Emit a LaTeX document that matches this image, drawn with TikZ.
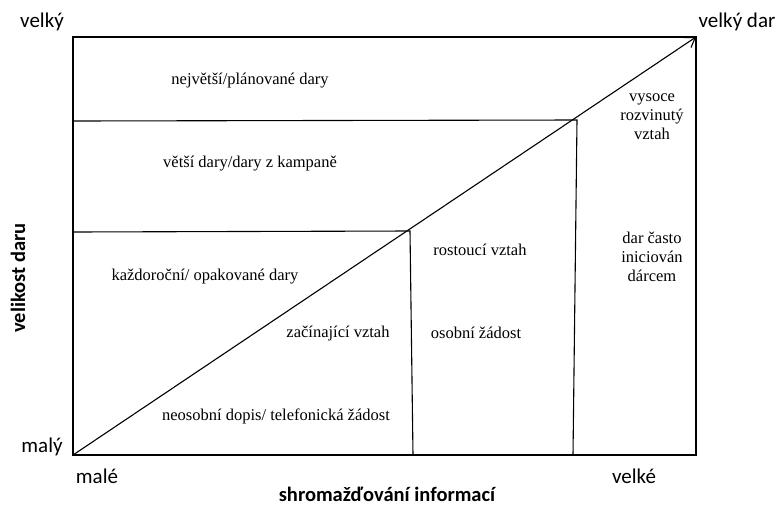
\documentclass[tikz,border=0pt]{standalone}
\usepackage{fontspec}
\usetikzlibrary{arrows.meta}
\setmainfont{Liberation Serif}
\newfontfamily\axisfont{Carlito}
\begin{document}
\begin{tikzpicture}[x=1pt,y=-1pt,
  frame/.style={line width=2pt},
  divider/.style={line width=1.1pt},
  zone/.style={font=\fontsize{16.5}{19}\selectfont, inner sep=0pt, align=center},
  axislabel/.style={font=\axisfont\fontsize{21}{24}\selectfont, inner sep=0pt},
  axistitle/.style={font=\axisfont\bfseries\fontsize{20.5}{24}\selectfont, inner sep=0pt}]
\useasboundingbox (0,0) rectangle (779,507);

% corners of the frame
\coordinate (bl) at (73,455);
\coordinate (tr) at (696,37);
\coordinate (tl) at (73,37);
\coordinate (br) at (696,455);

% points where the dividers meet the diagonal
\coordinate (p1) at (410,231);
\coordinate (p2) at (577,120);
\coordinate (l1) at (73,232);
\coordinate (l2) at (73,121);
\coordinate (b1) at (413,455);
\coordinate (b2) at (573,455);

% frame
\draw[frame] (tl) rectangle (br);

% dividers
\draw[divider] (l2) -- (p2) -- (b2);
\draw[divider] (l1) -- (p1) -- (b1);

% diagonal arrow
\draw[divider, -{Straight Barb[length=9pt,width=12pt]}] (bl) -- (tr);

% zone texts
\node[zone] (z1) at (250,81) {největší/plánované dary};
\node[zone] (z2) at (250,164) {větší dary/dary z kampaně};
\node[zone] (z3) at (205,277) {každoroční/ opakované dary};
\node[zone] (z4) at (338,334) {začínající vztah};
\node[zone] (z5) at (276,416) {neosobní dopis/ telefonická žádost};
\node[zone] (z6) at (480,250) {rostoucí vztah};
\node[zone] (z7) at (476,333) {osobní žádost};
\node[zone] (z8) at (652,117) {vysoce\\rozvinutý\\vztah};
\node[zone] (z9) at (652,257) {dar často\\iniciován\\dárcem};

% axis labels
\node[axislabel] (ytop) at (42,22) {velký};
\node[axislabel] (ybot) at (42,447) {malý};
\node[axislabel] (ztop) at (737,22) {velký dar};
\node[axislabel] (xl) at (97,476) {malé};
\node[axislabel] (xr) at (634,476) {velké};
\node[axistitle] (xt) at (387,494) {shromažďování informací};
\node[axistitle, rotate=90] (yt) at (18,278) {velikost daru};
\end{tikzpicture}
\end{document}
